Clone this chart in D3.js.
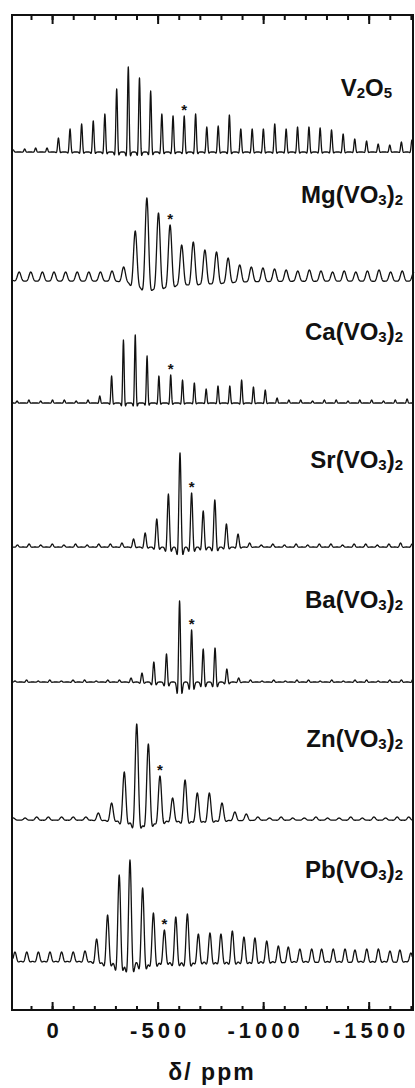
<!DOCTYPE html>
<html>
<head>
<meta charset="utf-8">
<script src="https://cdn.jsdelivr.net/npm/d3@7"></script>
<style>
  body { margin: 0; background: #fff; }
  svg { display: block; }
  text { font-family: "Liberation Sans", Arial, sans-serif; font-weight: bold; fill: #111; }
</style>
</head>
<body>
<svg id="chart" width="415" height="1088"></svg>
<script>
// compounds, top to bottom
var labels = ['V2O5', 'Mg(VO3)2', 'Ca(VO3)2', 'Sr(VO3)2', 'Ba(VO3)2', 'Zn(VO3)2', 'Pb(VO3)2'];
// isotropic line (marked *), ppm
var isoShifts = [-626, -559, -562, -661, -661, -511, -532];

// spinning sideband manifolds: [ppm, intensity]
var v2o5 = [[184,2],[130,3],[78,4],[24,4],[-30,14],[-85,23],[-140,28],[-195,31],[-250,38],[-306,63],
  [-361,85],[-414,74],[-467,61],[-520,38],[-573,36],[-626,36],[-680,38],[-733,25],[-787,26],[-840,37],
  [-894,23],[-948,23],[-1001,23],[-1055,28],[-1109,23],[-1163,25],[-1217,25],[-1270,24],[-1324,22],
  [-1379,18],[-1434,13],[-1490,11],[-1545,8],[-1600,7],[-1655,10],[-1705,12]];
var mgVO3 = [[156,8],[101,8],[46,8],[-9,8],[-64,8],[-119,8],[-174,8],[-229,8],[-284,9],[-339,13],
  [-394,49],[-449,82],[-504,67],[-559,55],[-614,35],[-669,38],[-724,30],[-779,28],[-834,22],[-889,15],
  [-944,13],[-999,12],[-1054,11],[-1109,10],[-1164,9],[-1219,10],[-1274,9],[-1329,8],[-1384,9],
  [-1439,8],[-1494,9],[-1549,10],[-1604,8],[-1659,9],[-1714,8]];
var caVO3 = [[166,2],[110,3],[54,2],[-2,3],[-58,3],[-114,2],[-170,3],[-226,7],[-282,27],[-338,63],
  [-394,68],[-450,47],[-506,27],[-562,28],[-618,23],[-674,20],[-730,14],[-786,17],[-842,17],[-898,23],
  [-954,16],[-1010,13],[-1066,5],[-1122,3],[-1178,3],[-1234,2],[-1290,3],[-1346,3],[-1402,2],
  [-1458,3],[-1514,3],[-1570,2],[-1626,3],[-1682,4]];
var srVO3 = [[164,2],[109,3],[54,2],[-1,3],[-56,2],[-111,3],[-166,2],[-221,3],[-276,3],[-331,4],
  [-386,8],[-441,14],[-496,28],[-551,53],[-606,94],[-661,54],[-716,36],[-771,47],[-826,23],[-881,13],
  [-936,4],[-991,2],[-1046,3],[-1101,2],[-1156,3],[-1211,2],[-1266,3],[-1321,3],[-1376,2],[-1431,3],
  [-1486,3],[-1541,2],[-1596,3],[-1651,4],[-1706,3]];
var baVO3 = [[176,1],[121,2],[66,1],[11,2],[-44,1],[-99,2],[-154,2],[-209,1],[-264,2],[-319,2],
  [-374,4],[-426,9],[-482,20],[-542,28],[-604,81],[-661,52],[-716,33],[-772,34],[-828,13],[-884,4],
  [-940,2],[-995,1],[-1050,2],[-1105,1],[-1160,2],[-1215,2],[-1270,1],[-1325,2],[-1380,1],[-1435,2],
  [-1490,2],[-1545,1],[-1600,2],[-1655,2],[-1710,3]];
var znVO3 = [[183,2],[128,2],[73,3],[18,3],[-45,3],[-100,3],[-160,3],[-219,7],[-282,17],[-342,48],
  [-401,96],[-456,76],[-511,44],[-571,22],[-630,40],[-688,27],[-745,27],[-805,17],[-866,8],[-920,6],
  [-975,3],[-1030,2],[-1085,3],[-1140,2],[-1195,2],[-1250,3],[-1305,2],[-1360,2],[-1415,3],[-1470,2],
  [-1525,3],[-1580,2],[-1635,3],[-1690,3]];
var pbVO3 = [[176,9],[120,9],[65,9],[10,9],[-45,9],[-100,9],[-156,10],[-211,22],[-263,46],[-318,86],
  [-369,101],[-429,73],[-480,48],[-532,31],[-586,44],[-641,47],[-693,27],[-748,28],[-800,27],[-854,30],
  [-909,24],[-961,23],[-1017,20],[-1072,15],[-1119,14],[-1174,12],[-1230,12],[-1277,12],[-1332,12],
  [-1388,12],[-1435,11],[-1491,12],[-1546,12],[-1601,10],[-1648,11],[-1700,8]];
var peakLists = [v2o5, mgVO3, caVO3, srVO3, baVO3, znVO3, pbVO3];

var majorTicks = [0, -500, -1000, -1500];
var minorTicks = [100, 0, -100, -200, -300, -400, -500, -600, -700, -800, -900, -1000,
  -1100, -1200, -1300, -1400, -1500, -1600, -1700];
var xTitle = 'δ/ ppm';

// layout
var frame = { left: 12, right: 413, top: 15, bottom: 1010 };
var baselines = [152, 280, 403, 547, 682, 820, 961];
var labelY = [96, 203, 340, 468, 608, 747, 878];
var labelRight = [392, 403, 403, 403, 403, 403, 403];
var lineWidths = [4.7, 10.5, 4.3, 6.5, 5.7, 9.5, 8.5];   // gaussian sigma, ppm
var lobes = [1.8, 1.5, 1.8, 1.6, 1.4, 1.6, 1.5];          // side-dip factor

var svg = d3.select('#chart');

var x = d3.scaleLinear()
  .domain([190, -1710])
  .range([frame.left, frame.right]);

function lineshape (ppm, peaks, sigma, s) {
  var sum = 0;
  peaks.forEach(function (p) {
    var u = (ppm - p[0]) / sigma;
    if (Math.abs(u) > 9) return;
    sum += p[1] * (1 - u * u / (s * s)) * Math.exp(-u * u / 2);
  });
  return sum;
}

function drawSpectrum (i) {
  var peaks = peakLists[i];
  var base = baselines[i];
  var y = d3.scaleLinear().domain([0, 100]).range([base, base - 100]);
  var sigma = lineWidths[i], s = lobes[i];

  var pts = d3.range(frame.left + 1, frame.right - 0.5, 0.3).map(function (px) {
    return x.invert(px);
  });
  peaks.forEach(function (p) { pts.push(p[0]); });
  pts.sort(function (a, b) { return b - a; });

  var data = pts.map(function (ppm) {
    return { ppm: ppm, v: lineshape(ppm, peaks, sigma, s) };
  });

  var line = d3.line()
    .x(function (d) { return x(d.ppm); })
    .y(function (d) { return y(d.v); });

  svg.append('path')
    .datum(data)
    .attr('class', 'trace')
    .attr('d', line)
    .attr('fill', 'none')
    .attr('stroke', '#111')
    .attr('stroke-width', 1.3)
    .attr('stroke-linejoin', 'round');

  // star over the isotropic line
  var iso = isoShifts[i];
  var top = y(lineshape(iso, peaks, sigma, s));
  svg.append('text')
    .attr('x', x(iso))
    .attr('y', top - 1)
    .attr('text-anchor', 'middle')
    .style('font-size', '15px')
    .text('*');

  // compound label, digits as subscripts
  var t = svg.append('text')
    .attr('x', labelRight[i])
    .attr('y', labelY[i])
    .attr('text-anchor', 'end')
    .style('font-size', '24px');
  var parts = labels[i].match(/\d+|\D+/g);
  var shifted = false;
  parts.forEach(function (part) {
    var isSub = /\d/.test(part);
    var ts = t.append('tspan').text(part);
    if (isSub) {
      ts.style('font-size', '15px');
      if (!shifted) { ts.attr('dy', 2); shifted = true; }
    } else if (shifted) {
      ts.attr('dy', -2);
      shifted = false;
    }
  });
}

d3.range(labels.length).forEach(drawSpectrum);

// frame
svg.append('rect')
  .attr('x', frame.left)
  .attr('y', frame.top)
  .attr('width', frame.right - frame.left)
  .attr('height', frame.bottom - frame.top)
  .attr('fill', 'none')
  .attr('stroke', '#111')
  .attr('stroke-width', 2);

// ticks, pointing inward
function tickAxis (axisFn, yPos, values, size, withLabels) {
  var ax = axisFn(x)
    .tickValues(values)
    .tickSize(-size)
    .tickSizeOuter(0)
    .tickPadding(12)
    .tickFormat(withLabels ? function (d) { return d3.format('d')(d).replace('−', '-'); } : '');
  var g = svg.append('g')
    .attr('transform', 'translate(0,' + yPos + ')')
    .call(ax);
  g.select('.domain').remove();
  g.selectAll('line').attr('stroke', '#111').attr('stroke-width', 2);
  return g;
}

tickAxis(d3.axisTop, frame.top, minorTicks, 5, false);
tickAxis(d3.axisTop, frame.top, majorTicks, 9, false);
tickAxis(d3.axisBottom, frame.bottom, minorTicks, 4, false);
var lab = tickAxis(d3.axisBottom, frame.bottom, majorTicks, 8, true);
lab.selectAll('text')
  .attr('fill', '#111')
  .attr('dx', 2)
  .style('font-family', '"Liberation Sans", Arial, sans-serif')
  .style('font-weight', 'bold')
  .style('font-size', '22px')
  .style('letter-spacing', '4px');

svg.append('text')
  .attr('x', 212)
  .attr('y', 1080)
  .attr('text-anchor', 'middle')
  .style('font-size', '23px')
  .style('letter-spacing', '2px')
  .text(xTitle);
</script>
</body>
</html>
